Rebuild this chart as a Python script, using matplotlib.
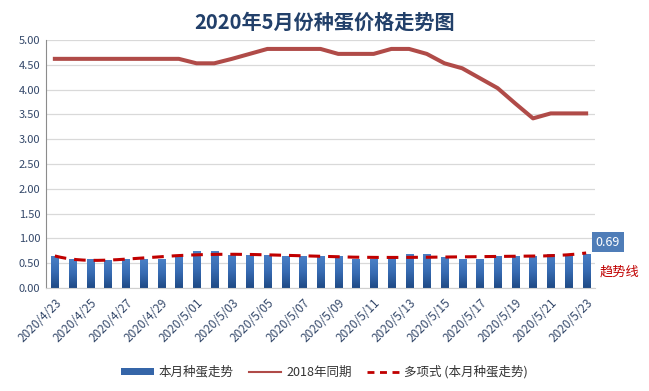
import numpy as np
import matplotlib
matplotlib.use("Agg")
import matplotlib.pyplot as plt
from matplotlib.patches import Patch
from matplotlib.lines import Line2D
from matplotlib.colors import LinearSegmentedColormap

plt.rcParams['font.family'] = ['Noto Sans CJK SC', 'DejaVu Sans']

dates = ["2020/4/23", "2020/4/24", "2020/4/25", "2020/4/26", "2020/4/27", "2020/4/28",
         "2020/4/29", "2020/4/30", "2020/5/01", "2020/5/02", "2020/5/03", "2020/5/04",
         "2020/5/05", "2020/5/06", "2020/5/07", "2020/5/08", "2020/5/09", "2020/5/10",
         "2020/5/11", "2020/5/12", "2020/5/13", "2020/5/14", "2020/5/15", "2020/5/16",
         "2020/5/17", "2020/5/18", "2020/5/19", "2020/5/20", "2020/5/21", "2020/5/22",
         "2020/5/23"]
this_month = [0.64, 0.58, 0.58, 0.57, 0.58, 0.58, 0.58, 0.64, 0.74, 0.74, 0.66, 0.66,
              0.66, 0.64, 0.64, 0.64, 0.64, 0.58, 0.58, 0.64, 0.68, 0.68, 0.62, 0.58,
              0.58, 0.64, 0.64, 0.64, 0.68, 0.68, 0.69]
same_2018 = [4.62, 4.62, 4.62, 4.62, 4.62, 4.62, 4.62, 4.62, 4.53, 4.53, 4.62, 4.72,
             4.82, 4.82, 4.82, 4.82, 4.72, 4.72, 4.72, 4.82, 4.82, 4.72, 4.53, 4.43,
             4.23, 4.03, 3.72, 3.42, 3.52, 3.52, 3.52]
tick_labels = dates[::2]
yticks = [0.0, 0.5, 1.0, 1.5, 2.0, 2.5, 3.0, 3.5, 4.0, 4.5, 5.0]

title = "2020年5月份种蛋价格走势图"
legend_labels = ["本月种蛋走势", "2018年同期", "多项式 (本月种蛋走势)"]

x = np.arange(len(dates))
y = np.array(this_month)
coef = np.polyfit(x, y, 6)
xs = np.linspace(0, len(dates) - 1, 300)
trend = np.polyval(coef, xs)

fig = plt.figure(figsize=(6.49, 3.91), dpi=100)
ax = fig.add_axes([46/649, 1 - 288/391, (595-46)/649, (288-40)/391])

bar_w = 0.4
bars = ax.bar(x, y, width=bar_w, color='#3A6CB0', zorder=2)
grad = np.linspace(0, 1, 100).reshape(-1, 1)
cmap = LinearSegmentedColormap.from_list('g', ['#1F4A85', '#376BB2', '#4A80C6'])
for b in bars:
    bx, by = b.get_x(), b.get_y()
    w, h = b.get_width(), b.get_height()
    im = ax.imshow(grad, extent=[bx, bx + w, by, by + h], origin='lower',
                   cmap=cmap, aspect='auto', zorder=2.1)
    im.set_clip_path(b)

ax.plot(x, same_2018, color='#B04B48', lw=2.9, zorder=3, solid_joinstyle='round')
ax.plot(xs, trend, color='#C00000', lw=2.2, ls=(0, (3.8, 2.6)), zorder=4)

ax.set_xlim(-0.5, len(dates) - 0.5)
ax.set_ylim(0, 5)
ax.set_yticks(yticks)
ax.set_yticklabels([f"{v:.2f}" for v in yticks], fontsize=8, color='#34486A')
ax.set_xticks(x[::2])
ax.set_xticklabels(tick_labels, rotation=45, ha='right', va='top', rotation_mode='anchor',
                   fontsize=8.5, color='#34486A')
ax.tick_params(axis='both', length=0, pad=4)
ax.tick_params(axis='x', pad=6)
ax.grid(axis='y', color='#D9D9D9', lw=0.9, zorder=0)
ax.set_axisbelow(True)
for s in ['top', 'right']:
    ax.spines[s].set_visible(False)
ax.spines['left'].set_color('#8C8C8C')
ax.spines['bottom'].set_color('#D0D0D0')

fig.text(0.5, 1 - 22/391, title, ha='center', va='center', fontsize=14.5,
         fontweight='bold', color='#22406A')

ax.annotate(f"{this_month[-1]:.2f}", xy=(x[-1], this_month[-1]), xytext=(608, 391-242),
            textcoords='figure pixels', ha='center', va='center', fontsize=9, color='white',
            bbox=dict(boxstyle='square,pad=0.3', fc='#4F7DB8', ec='none'))
fig.text(619/649, 1 - 272/391, "趋势线", ha='center', va='center', fontsize=9.5,
         color='#C00000')

handles = [Patch(facecolor='#3565A8', edgecolor='none'),
           Line2D([0], [0], color='#B04B48', lw=1.5),
           Line2D([0], [0], color='#C00000', lw=2, ls=(0, (2.5, 2)))]
fig.legend(handles, legend_labels, loc='center', bbox_to_anchor=(0.5, 1 - 372/391),
           ncol=3, frameon=False, fontsize=9, handlelength=2.6, handleheight=0.5,
           columnspacing=1.2, handletextpad=0.4, labelcolor='#333333')

fig.savefig("out.png", dpi=100, facecolor='white')
